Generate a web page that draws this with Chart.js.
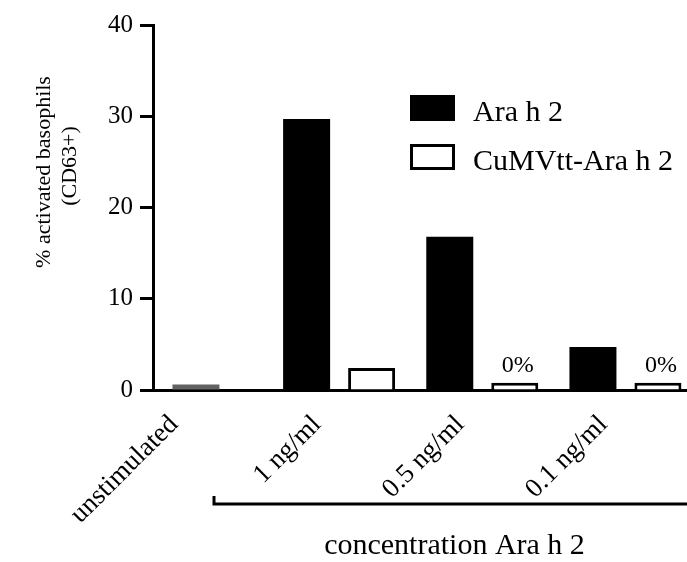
<!DOCTYPE html>
<html>
<head>
<meta charset="utf-8">
<script src="https://cdn.jsdelivr.net/npm/chart.js@4.4.1/dist/chart.umd.min.js"></script>
<style>
  html, body { margin: 0; padding: 0; background: #fff; }
</style>
</head>
<body>
<canvas id="chart" width="687" height="562"></canvas>
<script>
// categories along the x axis
const categories = ['unstimulated', '1 ng/ml', '0.5 ng/ml', '0.1 ng/ml'];

// % activated basophils (CD63+), one value per category
const unstimulatedValues = [0.6, null, null, null];
const araH2Values = [null, 29.7, 16.8, 4.7];
const cumvttValues = [null, 2.4, 0.8, 0.8];

// text printed over the CuMVtt bars
const cumvttNotes = [null, null, '0%', '0%'];

const yTicks = [0, 10, 20, 30, 40];
const yTitle = ['% activated basophils', '(CD63+)'];
const groupTitle = 'concentration Ara h 2';

const FONT = "'Liberation Serif', 'Times New Roman', serif";

function toPoints(values) {
    return values.map((v, i) => ({ x: i, y: v }));
}

// draws the y title, the legend, the bracket under the concentrations and the 0% notes
const extras = {
    id: 'extras',
    afterDatasetsDraw(chart) {
        const ctx = chart.ctx;
        const area = chart.chartArea;
        ctx.save();
        ctx.fillStyle = '#000';
        ctx.strokeStyle = '#000';

        // notes above bars
        const meta = chart.getDatasetMeta(2);
        ctx.font = '24px ' + FONT;
        ctx.textAlign = 'center';
        ctx.textBaseline = 'alphabetic';
        meta.data.forEach((bar, i) => {
            if (cumvttNotes[i]) ctx.fillText(cumvttNotes[i], bar.x + 3, bar.y - 11);
        });

        // legend inside plot
        const lx = area.left + 257;
        let ly = area.top + 70;
        ctx.font = '30px ' + FONT;
        ctx.textAlign = 'left';
        chart.data.datasets.forEach(ds => {
            if (ds.hideInLegend) return;
            ctx.fillStyle = ds.backgroundColor;
            ctx.fillRect(lx, ly, 45, 26);
            if (ds.borderWidth) {
                ctx.lineWidth = 3;
                ctx.strokeRect(lx + 1.5, ly + 1.5, 42, 23);
            }
            ctx.fillStyle = '#000';
            ctx.fillText(ds.label, lx + 63, ly + 26);
            ly += 49;
        });

        // y title, two lines
        ctx.font = '22px ' + FONT;
        ctx.textAlign = 'center';
        ctx.textBaseline = 'middle';
        ctx.translate(44, 172);
        ctx.rotate(-Math.PI / 2);
        yTitle.forEach((line, k) => ctx.fillText(line, k * 6, k * 26));
        ctx.restore();

        // bracket + group title
        ctx.save();
        const bx = area.left + 61;
        const by = area.bottom + 114;
        ctx.lineWidth = 3;
        ctx.beginPath();
        ctx.moveTo(bx, by - 8);
        ctx.lineTo(bx, by);
        ctx.lineTo(chart.width, by);
        ctx.stroke();
        ctx.font = '30px ' + FONT;
        ctx.textAlign = 'center';
        ctx.textBaseline = 'alphabetic';
        ctx.fillStyle = '#000';
        ctx.fillText(groupTitle, (bx + chart.width) / 2 + 4, area.bottom + 164);
        ctx.restore();
    }
};

new Chart(document.getElementById('chart'), {
    type: 'bar',
    data: {
        datasets: [
            {
                label: 'unstimulated',
                data: toPoints(unstimulatedValues),
                backgroundColor: '#626262',
                borderWidth: 0,
                hideInLegend: true
            },
            {
                label: 'Ara h 2',
                data: toPoints(araH2Values),
                backgroundColor: '#000',
                borderWidth: 0
            },
            {
                label: 'CuMVtt-Ara h 2',
                data: toPoints(cumvttValues),
                backgroundColor: '#fff',
                borderColor: '#000',
                borderWidth: 3
            }
        ]
    },
    options: {
        responsive: false,
        animation: false,
        layout: { padding: { top: 25, right: 0, bottom: 0, left: 0 } },
        datasets: {
            bar: {
                skipNull: true,
                categoryPercentage: 0.908,
                barPercentage: 0.74,
                maxBarThickness: 47
            }
        },
        plugins: {
            legend: { display: false },
            tooltip: { enabled: false }
        },
        scales: {
            x: {
                type: 'linear',
                min: -0.3,
                max: 3.43,
                offset: false,
                afterBuildTicks: s => { s.ticks = categories.map((c, i) => ({ value: i })); },
                afterFit: s => { s.height = 172; },
                grid: { display: false, drawTicks: false },
                border: { display: true, color: '#000', width: 3 },
                ticks: {
                    autoSkip: false,
                    minRotation: 45,
                    maxRotation: 45,
                    padding: 19,
                    labelOffset: -22,
                    color: '#000',
                    font: { family: FONT, size: 27 },
                    callback: v => categories[v]
                }
            },
            y: {
                min: 0,
                max: 40,
                afterBuildTicks: s => { s.ticks = yTicks.map(v => ({ value: v })); },
                afterFit: s => { s.width = 153; },
                grid: {
                    display: true,
                    drawOnChartArea: false,
                    drawTicks: true,
                    tickLength: 13,
                    tickWidth: 3,
                    tickColor: '#000',
                    color: '#000'
                },
                border: { display: true, color: '#000', width: 3 },
                ticks: {
                    padding: 7,
                    color: '#000',
                    font: { family: FONT, size: 25 }
                }
            }
        }
    },
    plugins: [extras]
});
</script>
</body>
</html>
